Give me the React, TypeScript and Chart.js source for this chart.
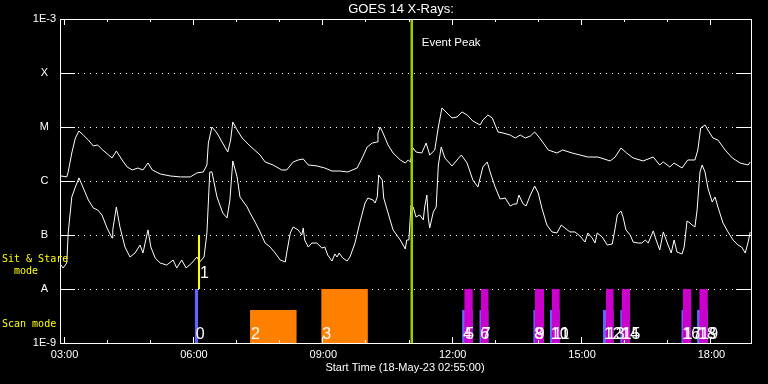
import { useEffect, useRef } from 'react';
import { Chart, registerables } from 'chart.js';

Chart.register(...registerables);

// ---------- data ----------
const chartTitle = 'GOES 14 X-Rays:';
const xAxisTitle = 'Start Time (18-May-23 02:55:00)';
const startMinute = 175; // 02:55
const endMinute = 1135; // 18:55
const xTickMinutes = [180, 240, 300, 360, 420, 480, 540, 600, 660, 720, 780, 840, 900, 960, 1020, 1080];
const yTickValues = [1e-9, 1e-8, 1e-7, 1e-6, 1e-5, 1e-4, 1e-3];
const yTickLabels = ['1E-9', 'A', 'B', 'C', 'M', 'X', '1E-3'];

// 1-8 A channel (upper curve), time in minutes of day
const longTimes = [
  175, 183, 185, 190, 195, 200, 206, 213, 220, 226,
  233, 246, 252, 260, 267, 274, 282, 289, 296, 302,
  313, 327, 341, 355, 364, 373, 378, 380, 385, 392,
  399, 407, 411, 414, 420, 427, 438, 452, 459, 470,
  482, 489, 498, 505, 512, 519, 531, 542, 552, 563,
  574, 587, 594, 601, 608, 615, 616, 619, 623, 630,
  637, 647, 654, 658, 661, 665, 669, 677, 683, 688,
  695, 700, 705, 712, 719, 726, 733, 740, 748, 758,
  762, 769, 775, 783, 790, 800, 807, 814, 821, 828,
  834, 841, 853, 865, 873, 886, 897, 908, 922, 939,
  946, 954, 962, 971, 985, 999, 1008, 1013, 1022, 1028,
  1039, 1047, 1057, 1061, 1065, 1071, 1075, 1082, 1089, 1099,
  1109, 1120, 1131, 1134,
];
const longFlux = [
  1.24e-6, 1.19e-6, 1.47e-6, 3.30e-6, 6.26e-6, 8.43e-6, 7.10e-6, 5.74e-6, 4.45e-6, 4.64e-6,
  3.75e-6, 2.67e-6, 3.59e-6, 2.45e-6, 1.82e-6, 1.60e-6, 1.74e-6, 1.60e-6, 2.15e-6, 1.60e-6,
  1.35e-6, 1.24e-6, 1.19e-6, 1.19e-6, 1.41e-6, 1.47e-6, 1.98e-6, 5.05e-6, 1.0e-5, 7.74e-6,
  5.28e-6, 3.44e-6, 5.74e-6, 1.24e-5, 8.80e-6, 6.26e-6, 4.45e-6, 3.03e-6, 2.25e-6, 1.98e-6,
  1.60e-6, 1.60e-6, 2.25e-6, 2.45e-6, 2.56e-6, 1.98e-6, 1.90e-6, 1.74e-6, 1.53e-6, 1.53e-6,
  1.47e-6, 1.74e-6, 2.67e-6, 4.26e-6, 5.05e-6, 5.28e-6, 7.74e-6, 1.0e-5, 7.74e-6, 4.64e-6,
  3.30e-6, 2.45e-6, 2.15e-6, 2.45e-6, 2.25e-6, 4.08e-6, 3.44e-6, 3.30e-6, 5.05e-6, 3.03e-6,
  3.75e-6, 1.0e-5, 2.25e-5, 1.82e-5, 1.47e-5, 1.53e-5, 1.90e-5, 1.67e-5, 1.29e-5, 1.09e-5,
  1.35e-5, 1.67e-5, 1.47e-5, 8.08e-6, 7.74e-6, 7.10e-6, 6.26e-6, 7.10e-6, 6.26e-6, 6.81e-6,
  8.08e-6, 6.26e-6, 3.75e-6, 3.30e-6, 3.75e-6, 3.30e-6, 3.03e-6, 2.78e-6, 2.78e-6, 2.35e-6,
  2.78e-6, 4.08e-6, 3.30e-6, 2.67e-6, 2.35e-6, 2.78e-6, 1.98e-6, 2.25e-6, 1.82e-6, 2.15e-6,
  1.74e-6, 2.45e-6, 2.45e-6, 3.75e-6, 9.58e-6, 1.09e-5, 8.80e-6, 6.26e-6, 5.74e-6, 3.75e-6,
  2.67e-6, 2.15e-6, 1.98e-6, 2.25e-6,
];

// 0.5-4 A channel (lower curve)
const shortTimes = [
  175, 178, 183, 185, 190, 195, 200, 206, 213, 220,
  226, 232, 239, 246, 247, 252, 257, 264, 271, 278,
  285, 289, 296, 300, 306, 313, 322, 331, 336, 343,
  349, 357, 364, 368, 374, 378, 382, 385, 392, 400,
  406, 410, 414, 420, 424, 434, 438, 445, 452, 459,
  466, 473, 480, 487, 489, 494, 498, 505, 510, 512,
  514, 519, 524, 531, 538, 542, 546, 552, 556, 559,
  562, 567, 573, 577, 584, 591, 598, 602, 609, 612,
  615, 617, 622, 624, 630, 637, 647, 654, 656, 659,
  662, 665, 669, 674, 679, 681, 684, 686, 688, 693,
  697, 700, 704, 709, 719, 726, 732, 740, 748, 755,
  762, 768, 772, 779, 786, 793, 800, 805, 809, 812,
  818, 822, 828, 834, 839, 844, 851, 858, 865, 871,
  876, 883, 890, 897, 904, 908, 914, 918, 921, 928,
  935, 942, 946, 949, 954, 957, 961, 967, 971, 978,
  983, 988, 992, 999, 1003, 1008, 1013, 1018, 1024, 1028,
  1032, 1039, 1042, 1046, 1050, 1053, 1057, 1060, 1064, 1067,
  1071, 1075, 1081, 1085, 1089, 1096, 1103, 1110, 1117, 1122,
  1127, 1131, 1134,
];
const shortFlux = [
  2.78e-8, 2.45e-8, 3.03e-8, 1.09e-7, 5.05e-7, 7.74e-7, 1.14e-6, 7.42e-7, 4.45e-7, 3.16e-7,
  2.91e-7, 2.35e-7, 1.35e-7, 8.80e-8, 1.24e-7, 3.30e-7, 1.41e-7, 5.99e-8, 3.91e-8, 4.64e-8,
  6.52e-8, 4.64e-8, 1.24e-7, 5.99e-8, 3.75e-8, 3.03e-8, 2.78e-8, 3.44e-8, 2.45e-8, 3.44e-8,
  2.45e-8, 3.03e-8, 3.91e-8, 3.16e-8, 3.91e-8, 1.09e-7, 1.47e-6, 1.47e-6, 5.05e-7, 2.56e-7,
  2.07e-7, 4.45e-7, 2.35e-6, 1.19e-6, 5.05e-7, 3.30e-7, 2.56e-7, 1.74e-7, 1.14e-7, 7.10e-8,
  5.99e-8, 4.64e-8, 3.44e-8, 3.16e-8, 4.64e-8, 1.09e-7, 1.41e-7, 1.24e-7, 1.0e-7, 1.35e-7,
  8.08e-8, 5.99e-8, 7.10e-8, 7.10e-8, 5.74e-8, 5.99e-8, 4.26e-8, 3.30e-8, 4.45e-8, 3.91e-8,
  4.64e-8, 3.75e-8, 3.30e-8, 3.91e-8, 7.10e-8, 1.74e-7, 3.91e-7, 4.84e-7, 4.45e-7, 3.91e-7,
  5.05e-7, 1.29e-6, 1.04e-6, 4.84e-7, 2.56e-7, 1.24e-7, 8.08e-8, 5.50e-8, 8.08e-8, 8.08e-8,
  3.59e-7, 3.30e-7, 2.15e-7, 2.35e-7, 1.90e-7, 3.30e-7, 5.50e-7, 2.07e-7, 1.35e-7, 2.67e-7,
  3.30e-7, 1.98e-6, 4.26e-6, 2.67e-6, 1.90e-6, 2.45e-6, 3.03e-6, 2.15e-6, 1.04e-6, 7.74e-7,
  1.82e-6, 2.25e-6, 1.47e-6, 7.74e-7, 4.64e-7, 4.84e-7, 3.44e-7, 3.75e-7, 3.75e-7, 5.50e-7,
  3.75e-7, 3.44e-7, 5.50e-7, 8.08e-7, 5.99e-7, 3.16e-7, 1.53e-7, 1.14e-7, 1.09e-7, 1.53e-7,
  1.35e-7, 1.14e-7, 1.14e-7, 9.58e-8, 7.42e-8, 1.09e-7, 8.80e-8, 7.10e-8, 1.09e-7, 9.18e-8,
  6.52e-8, 6.81e-8, 1.35e-7, 2.35e-7, 2.78e-7, 2.15e-7, 1.24e-7, 1.0e-7, 7.42e-8, 7.10e-8,
  7.10e-8, 8.08e-8, 7.10e-8, 1.19e-7, 8.08e-8, 5.28e-8, 1.14e-7, 7.42e-8, 4.64e-8, 8.08e-8,
  4.84e-8, 4.45e-8, 5.99e-8, 1.82e-7, 1.67e-7, 1.53e-7, 1.41e-7, 2.91e-7, 1.47e-6, 1.98e-6,
  1.47e-6, 7.42e-7, 4.08e-7, 5.05e-7, 3.30e-7, 1.67e-7, 1.14e-7, 8.08e-8, 6.52e-8, 5.99e-8,
  4.64e-8, 7.42e-8, 1.14e-7,
];

// observation events (bars)
const eventNumbers = [0, 2, 3, 4, 5, 6, 7, 8, 9, 10, 11, 12, 13, 14, 15, 16, 17, 18, 19];
const eventTypes = [
  'scan', 'raster', 'raster', 'scan', 'spectro', 'scan', 'spectro', 'scan', 'spectro', 'scan',
  'spectro', 'scan', 'spectro', 'scan', 'spectro', 'scan', 'spectro', 'scan', 'spectro',
];
const eventStart = [361, 438, 537, 733, 736, 757, 759, 832, 834, 855, 858, 929, 933, 953, 955, 1038, 1040, 1060, 1063];
const eventEnd = [366, 503, 602, 748, 748, 770, 770, 847, 847, 869, 869, 944, 944, 967, 967, 1052, 1052, 1075, 1075];
const eventTop = [
  1e-8, 4.1e-9, 1e-8, 4.1e-9, 1e-8, 4.1e-9, 1e-8, 4.1e-9, 1e-8, 4.1e-9,
  1e-8, 4.1e-9, 1e-8, 4.1e-9, 1e-8, 4.1e-9, 1e-8, 4.1e-9, 1e-8,
];
const eventBase = 1e-9;

// sit & stare event
const stareNumber = 1;
const stareTime = 367;
const stareLow = 1e-8;
const stareHigh = 1e-7;

// event peak
const peakTime = 663;
const peakLabel = 'Event Peak';
const stareModeLines = ['Sit & Stare', '  mode'];
const scanModeLabel = 'Scan mode';

// ---------- styles ----------
const typeColor: Record<string, string> = {
  scan: '#6464ff',
  raster: '#ff8000',
  spectro: '#cc00cc',
};
const typeOrder: Record<string, number> = { raster: 3, scan: 2, spectro: 1 };
const SANS = '"Liberation Sans", Arial, sans-serif';
const MONO = '"DejaVu Sans Mono", monospace';

function hhmm(m: number) {
  const h = Math.floor(m / 60);
  const mm = m % 60;
  return String(h).padStart(2, '0') + ':' + String(mm).padStart(2, '0');
}

const idlPlugin = {
  id: 'idlFrame',
  beforeDraw(chart: any) {
    const { ctx, width, height } = chart;
    ctx.save();
    ctx.fillStyle = '#000';
    ctx.fillRect(0, 0, width, height);
    ctx.restore();
  },
  beforeDatasetsDraw(chart: any) {
    const { ctx, chartArea, scales } = chart;
    const { left, right } = chartArea;
    const y = scales.y;
    ctx.save();
    ctx.strokeStyle = '#fff';
    ctx.lineWidth = 1;
    y.ticks.forEach((t: any) => {
      if (t.value <= y.min || t.value >= y.max) return;
      const py = Math.round(y.getPixelForValue(t.value)) + 0.5;
      ctx.setLineDash([1, 5]);
      ctx.beginPath();
      ctx.moveTo(left + 17, py);
      ctx.lineTo(right - 15, py);
      ctx.stroke();
      ctx.setLineDash([]);
      ctx.beginPath();
      ctx.moveTo(left, py);
      ctx.lineTo(left + 14, py);
      ctx.moveTo(right - 15, py);
      ctx.lineTo(right, py);
      ctx.stroke();
    });
    ctx.restore();
  },
  afterDatasetsDraw(chart: any) {
    const { ctx, chartArea, scales } = chart;
    const { left, right, top, bottom } = chartArea;
    const x = scales.x;
    const y = scales.y;
    ctx.save();
    // frame
    ctx.strokeStyle = '#fff';
    ctx.lineWidth = 1;
    ctx.strokeRect(Math.round(left) - 0.5, Math.round(top) + 0.5, Math.round(right - left) + 1, Math.round(bottom - top));
    // inward hour ticks
    ctx.beginPath();
    x.ticks.forEach((t: any) => {
      const px = Math.round(x.getPixelForValue(t.value)) - 0.5;
      const len = t.value % 180 === 0 ? 6 : 3;
      ctx.moveTo(px, bottom);
      ctx.lineTo(px, bottom - len);
      ctx.moveTo(px, top);
      ctx.lineTo(px, top + len);
    });
    ctx.stroke();

    // titles
    ctx.fillStyle = '#fff';
    ctx.textBaseline = 'middle';
    ctx.textAlign = 'center';
    ctx.font = '13px ' + SANS;
    ctx.fillText(chartTitle, (left + right) / 2 - 5, 9);
    ctx.font = '11px ' + SANS;
    ctx.fillText(xAxisTitle, (left + right) / 2 - 1, 368);

    // event peak label
    ctx.textAlign = 'left';
    ctx.font = '11.5px ' + SANS;
    ctx.fillText(peakLabel, x.getPixelForValue(peakTime) + 10, top + 24);

    // mode labels
    ctx.fillStyle = '#ffff00';
    ctx.font = '10px ' + MONO;
    ctx.fillText(stareModeLines[0], 2, 259);
    ctx.fillText(stareModeLines[1], 2, 271);
    ctx.fillText(scanModeLabel, 2, 324);

    // event numbers
    ctx.fillStyle = '#fff';
    ctx.font = '16px ' + SANS;
    ctx.textBaseline = 'alphabetic';
    const baseY = y.getPixelForValue(eventBase);
    eventNumbers.forEach((n, i) => {
      ctx.fillText(String(n), x.getPixelForValue(eventStart[i]) + 1, baseY - 4);
    });
    ctx.fillText(String(stareNumber), x.getPixelForValue(stareTime) + 1, y.getPixelForValue(stareLow) - 11);
    ctx.restore();
  },
};

export default function App() {
  const canvasRef = useRef<HTMLCanvasElement | null>(null);

  useEffect(() => {
    if (!canvasRef.current) return;
    const longData = longTimes.map((t, i) => ({ x: t, y: longFlux[i] }));
    const shortData = shortTimes.map((t, i) => ({ x: t, y: shortFlux[i] }));

    const eventSets = eventNumbers.map((n, i) => ({
      label: 'event ' + n,
      data: [
        { x: eventStart[i], y: eventTop[i] },
        { x: eventEnd[i], y: eventTop[i] },
      ],
      borderWidth: 0,
      borderColor: typeColor[eventTypes[i]],
      backgroundColor: typeColor[eventTypes[i]],
      fill: 'start',
      pointRadius: 0,
      order: typeOrder[eventTypes[i]],
    }));

    const chart = new Chart(canvasRef.current, {
      type: 'line',
      data: {
        datasets: [
          {
            label: 'Event Peak',
            data: [
              { x: peakTime, y: yTickValues[0] },
              { x: peakTime, y: yTickValues[yTickValues.length - 1] },
            ],
            borderColor: '#9ccc00',
            borderWidth: 2.5,
            pointRadius: 0,
            order: 0,
          },
          {
            label: 'Sit & Stare',
            data: [
              { x: stareTime, y: stareLow },
              { x: stareTime, y: stareHigh },
            ],
            borderColor: '#ffff00',
            borderWidth: 2,
            pointRadius: 0,
            order: 0,
          },
          {
            label: '1-8 A',
            data: longData,
            borderColor: '#ffffff',
            borderWidth: 1,
            pointRadius: 0,
            tension: 0,
            order: 5,
          },
          {
            label: '0.5-4 A',
            data: shortData,
            borderColor: '#ffffff',
            borderWidth: 1,
            pointRadius: 0,
            tension: 0,
            order: 5,
          },
          ...eventSets,
        ] as any,
      },
      options: {
        animation: false,
        responsive: false,
        maintainAspectRatio: false,
        devicePixelRatio: 1,
        layout: { padding: { left: 0, right: 17, top: 19, bottom: 0 } },
        plugins: {
          legend: { display: false },
          tooltip: { enabled: false },
          title: { display: false },
        },
        scales: {
          x: {
            type: 'linear',
            min: startMinute,
            max: endMinute,
            grid: { display: false, drawTicks: false },
            border: { display: false },
            afterBuildTicks: (s: any) => {
              s.ticks = xTickMinutes.map((v) => ({ value: v }));
            },
            afterFit: (s: any) => {
              s.height = 41;
            },
            ticks: {
              autoSkip: false,
              maxRotation: 0,
              color: '#ffffff',
              padding: 5,
              font: { family: SANS, size: 11 },
              callback: (v: any) => (Number(v) % 180 === 0 ? hhmm(Number(v)) : ''),
            },
          },
          y: {
            type: 'logarithmic',
            min: yTickValues[0],
            max: yTickValues[yTickValues.length - 1],
            grid: { display: false, drawTicks: false },
            border: { display: false },
            afterBuildTicks: (s: any) => {
              s.ticks = yTickValues.map((v) => ({ value: v }));
            },
            afterFit: (s: any) => {
              s.width = 61;
            },
            ticks: {
              autoSkip: false,
              color: '#ffffff',
              padding: 5,
              crossAlign: 'center',
              font: { family: SANS, size: 11 },
              callback: (_v: any, i: number) => yTickLabels[i],
            },
          },
        },
      } as any,
      plugins: [idlPlugin],
    });
    return () => chart.destroy();
  }, []);

  return (
    <div style={{ position: 'fixed', left: 0, top: 0, width: 768, height: 384, background: '#000' }}>
      <canvas ref={canvasRef} width={768} height={384} style={{ display: 'block', width: 768, height: 384 }} />
    </div>
  );
}
